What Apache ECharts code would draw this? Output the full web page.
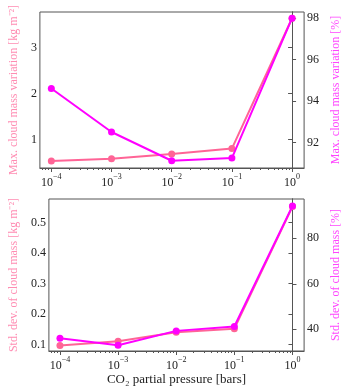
<!DOCTYPE html>
<html><head><meta charset="utf-8">
<script src="https://cdn.jsdelivr.net/npm/echarts@6/dist/echarts.min.js"></script>
<style>html,body{margin:0;padding:0;background:#fff}#c{width:350px;height:387px}</style>
</head><body><div id="c"></div>
<script>
// data
var pressureExp = [-4, -3, -2, -1, 0];           // log10 of CO2 partial pressure [bars]
var maxVarKg = [0.53, 0.58, 0.68, 0.80, 3.64];   // top, left axis
var maxVarPct = [94.6, 92.5, 91.11, 91.24, 98.0]; // top, right axis
var stdKg = [0.097, 0.111, 0.140, 0.152, 0.553];  // bottom, left axis
var stdPct = [36.1, 33.0, 39.3, 41.2, 94.2];      // bottom, right axis
var xTicks = [-4, -3, -2, -1, 0];
var topLeftTicks = [1, 2, 3];
var topRightTicks = [92, 94, 96, 98];
var botLeftTicks = [0.1, 0.2, 0.3, 0.4, 0.5];
var botRightTicks = [40, 60, 80];

var PINK = '#ff6496', MAG = '#ff00ff';
var PINK_T = '#ff8cb2', MAG_T = '#ff44ff';
var FONT = 'Liberation Serif';
var AX = '#555';

var minor = [];
for (var n = -5; n <= 0; n++) for (var k = 2; k <= 9; k++) {
  var v = n + Math.log10(k);
  if (v > -4.19 && v < 0.2) minor.push(v);
}
function pair(arr){ return pressureExp.map(function(x,i){ return [x, arr[i]]; }); }

function xMain(grid, name){
  return {type:'value', gridIndex:grid, min:-4.19, max:0.2,
    name:name||'', nameLocation:'middle', nameGap:22,
    nameTextStyle:{fontFamily:FONT, fontSize:13, color:'#222'},
    axisLine:{show:true, lineStyle:{color:AX}},
    splitLine:{show:false},
    axisTick:{show:true, inside:false, length:4, customValues:xTicks, lineStyle:{color:AX}},
    axisLabel:{customValues:xTicks, margin:5,
      formatter:function(v){ return '{b|10}{s|' + (v<0?'\u2212'+(-v):v) + '}'; },
      rich:{b:{fontFamily:FONT, fontSize:12, color:'#222', lineHeight:16, verticalAlign:'bottom'},
            s:{fontFamily:FONT, fontSize:8, color:'#222', lineHeight:16, verticalAlign:'top'}}}
  };
}
function xMinor(grid){
  return {type:'value', gridIndex:grid, min:-4.19, max:0.2, position:'bottom',
    axisLine:{show:false}, splitLine:{show:false}, axisLabel:{show:false},
    axisTick:{show:true, inside:false, length:2, customValues:minor, lineStyle:{color:AX}}};
}
function yAx(grid, pos, min, max, ticks, name, color, gap, dec){
  return {type:'value', gridIndex:grid, position:pos, min:min, max:max,
    name:name, nameLocation:'middle', nameGap:gap, nameRotate:90,
    nameTextStyle:{fontFamily:FONT, fontSize:12, color:color},
    axisLine:{show:true, lineStyle:{color:AX}},
    splitLine:{show:false},
    axisTick:{show:true, inside:false, length:4, customValues:ticks, lineStyle:{color:AX}},
    axisLabel:{customValues:ticks, margin:3, fontFamily:FONT, fontSize:12, color:'#222',
      formatter:function(v){ return dec ? v.toFixed(dec) : String(v); }}
  };
}
function ser(x, y, data, color, z){
  return {type:'line', xAxisIndex:x, yAxisIndex:y, data:pair(data),
    symbol:'circle', symbolSize:7, z:z, animation:false,
    lineStyle:{color:color, width:2}, itemStyle:{color:color}};
}

var chart = echarts.init(document.getElementById('c'), null, {renderer:'canvas'});
chart.setOption({
  animation:false,
  grid:[
    {left:36, top:12, width:283, height:156, show:true, borderColor:AX, borderWidth:1},
    {left:36, top:199, width:283, height:156, show:true, borderColor:AX, borderWidth:1}
  ],
  xAxis:[xMain(0), xMain(1, 'CO\u2082 partial pressure [bars]'), xMinor(0), xMinor(1)],
  yAxis:[
    yAx(0, 'left', 0.376, 3.776, topLeftTicks, 'Max. cloud mass variation [kg m\u207B\u00B2]', PINK_T, 15, 0),
    yAx(0, 'right', 90.76, 98.3, topRightTicks, 'Max. cloud mass variation [%]', MAG_T, 18, 0),
    yAx(1, 'left', 0.0786, 0.578, botLeftTicks, 'Std. dev. of cloud mass [kg m\u207B\u00B2]', PINK_T, 21, 1),
    yAx(1, 'right', 30.45, 97.3, botRightTicks, 'Std. dev. of cloud mass [%]', MAG_T, 18, 0)
  ],
  series:[
    ser(0, 0, maxVarKg, PINK, 2),
    ser(0, 1, maxVarPct, MAG, 3),
    ser(1, 2, stdKg, PINK, 2),
    ser(1, 3, stdPct, MAG, 3)
  ]
});
</script></body></html>
